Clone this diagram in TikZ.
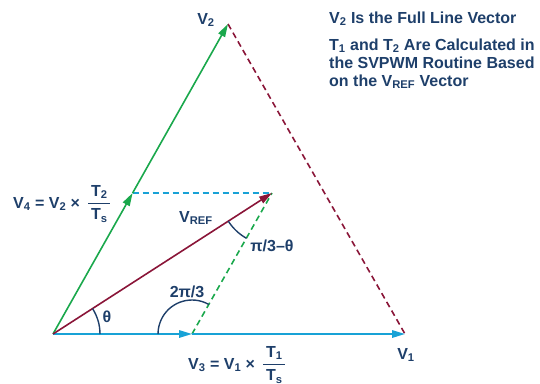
\documentclass[tikz,border=0pt]{standalone}
\usepackage{fontspec}
\setmainfont{Liberation Sans}
\usetikzlibrary{arrows.meta}

\definecolor{txtnavy}{HTML}{1E3F6A}
\definecolor{vgreen}{HTML}{1AA84C}
\definecolor{vred}{HTML}{8A1538}
\definecolor{vblue}{HTML}{18A2D6}

\begin{document}
\begin{tikzpicture}[x=1pt,y=-1pt,
        vec/.style={line width=1.6pt,-{Triangle[length=13pt,width=7.5pt]}},
        guide/.style={line width=1.6pt,dash pattern=on 6pt off 4pt},
        lbl/.style={text=txtnavy,font=\fontsize{16}{18}\selectfont\bfseries,inner sep=0pt},
        angarc/.style={txtnavy,line width=1.4pt}]

    \useasboundingbox (0,0) rectangle (540,383);

    % Corners of the sector and the vector tips
    \coordinate (O) at (53,334);
    \coordinate (V1) at (405,334);
    \coordinate (V2) at (228,24);
    \coordinate (V3) at (192,334);
    \coordinate (V4) at (132.6,193);
    \coordinate (Vref) at (272,193);

    % Dashed guide lines
    \draw[guide,vred] (V2) -- (V1);
    \draw[guide,vblue] (V4) -- (Vref);
    \draw[guide,vgreen] (V3) -- (Vref);

    % Vectors
    \draw[vec,vgreen] (O) -- (V4);
    \draw[vec,vgreen] (V4) -- (V2);
    \draw[vec,vblue] (O) -- (V3);
    \draw[vec,vblue] (V3) -- (V1);
    \draw[vec,vred] (O) -- (Vref);

    % Angle arcs
    \draw[angarc] ([shift={(0:47)}]O) arc[start angle=0,end angle=-32.8,radius=47];
    \draw[angarc] ([shift={(-60.6:34)}]V3) arc[start angle=-60.6,end angle=-180,radius=34];
    \draw[angarc] ([shift={(-212.8:52)}]Vref) arc[start angle=-212.8,end angle=-240.6,radius=52];

    % Labels
    \node[lbl] (v2lbl) at (206,20) {V\textsubscript{2}};
    \node[lbl] (v1lbl) at (406,355) {V\textsubscript{1}};
    \node[lbl,anchor=base west] (v4lbl) at (13,208)
        {V\textsubscript{4} = V\textsubscript{2} × \,$\displaystyle\frac{\mbox{\,T\textsubscript{2}\,}}{\mbox{\,T\textsubscript{s}\,}}$};
    \node[lbl,anchor=base west] (v3lbl) at (188,369)
        {V\textsubscript{3} = V\textsubscript{1} × \,$\displaystyle\frac{\mbox{\,T\textsubscript{1}\,}}{\mbox{\,T\textsubscript{s}\,}}$};
    \node[lbl] (vreflbl) at (196,218) {V\textsubscript{REF}};
    \node[lbl] (difflbl) at (272,246) {π/3--θ};
    \node[lbl] (sectlbl) at (187,292) {2π/3};
    \node[lbl] (thetalbl) at (107,317) {θ};

    % Notes
    \node[lbl,anchor=base west] (note1) at (329,23) {V\textsubscript{2} Is the Full Line Vector};
    \node[lbl,anchor=base west] (note2) at (329,50) {T\textsubscript{1} and T\textsubscript{2} Are Calculated in};
    \node[lbl,anchor=base west] (note3) at (329,68) {the SVPWM Routine Based};
    \node[lbl,anchor=base west] (note4) at (329,86) {on the V\textsubscript{REF} Vector};

\end{tikzpicture}
\end{document}
